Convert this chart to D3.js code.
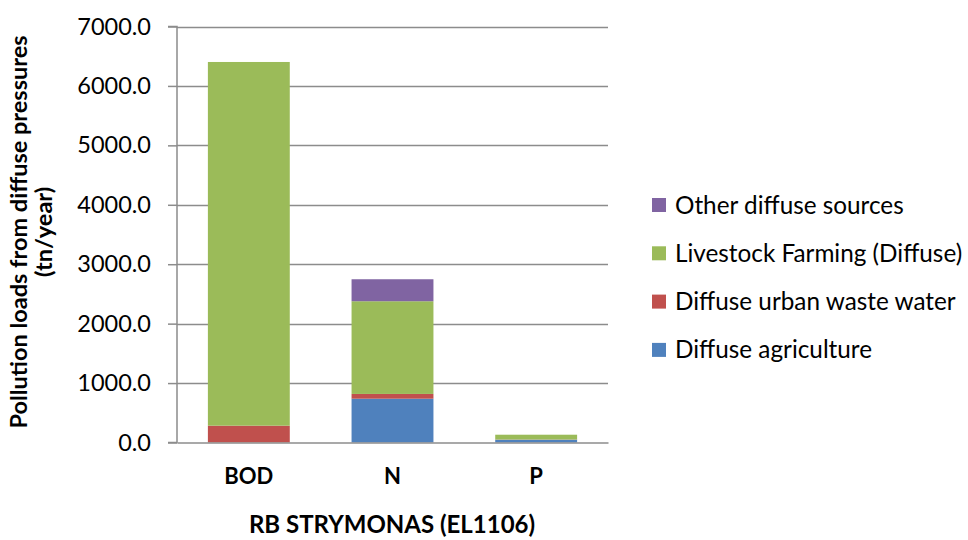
<!DOCTYPE html>
<html><head><meta charset="utf-8">
<script src="https://cdn.jsdelivr.net/npm/d3@7"></script>
<style>body{margin:0;background:#fff}text{font-family:Lato,"Open Sans",sans-serif}</style>
</head><body><svg id="c" width="968" height="540"></svg>
<script>
const categories = ["BOD", "N", "P"];
const seriesNames = ["Diffuse agriculture", "Diffuse urban waste water", "Livestock Farming (Diffuse)", "Other diffuse sources"];
const diffuseAgriculture = [0, 737, 47];
const diffuseUrbanWasteWater = [283, 80, 3];
const livestockFarming = [6120, 1560, 81];
const otherDiffuse = [0, 370, 0];
const yTicks = [0, 1000, 2000, 3000, 4000, 5000, 6000, 7000];
const colors = ["#4F81BD", "#C0504D", "#9BBB59", "#8064A2"];
const xTitle = "RB STRYMONAS (EL1106)";
const yTitle1 = "Pollution loads from diffuse pressures";
const yTitle2 = "(tn/year)";

const svg = d3.select("#c");
const L = 177, R = 608, T = 26.5, B = 442.5;
const x = d3.scaleBand().domain(categories).range([L, R]).paddingInner(0.43).paddingOuter(0.215);
const y = d3.scaleLinear().domain([0, 7000]).range([B, T]);

// gridlines
svg.append("g").selectAll("line").data(yTicks.slice(1)).join("line")
  .attr("x1", L).attr("x2", R).attr("y1", d => Math.round(y(d)) + 0.5).attr("y2", d => Math.round(y(d)) + 0.5)
  .attr("stroke", "#8c8c8c").attr("stroke-width", 1.5);

const rows = categories.map((c, i) => ({cat: c, a: diffuseAgriculture[i], u: diffuseUrbanWasteWater[i], l: livestockFarming[i], o: otherDiffuse[i]}));
const stack = d3.stack().keys(["a", "u", "l", "o"])(rows);
svg.append("g").selectAll("g").data(stack).join("g").attr("fill", (d, i) => colors[i])
  .selectAll("rect").data(d => d).join("rect")
  .attr("x", d => x(d.data.cat)).attr("width", x.bandwidth())
  .attr("y", d => y(d[1])).attr("height", d => Math.max(0, y(d[0]) - y(d[1])));

// y axis
const yAxis = d3.axisLeft(y).tickValues(yTicks).tickFormat(d3.format(".1f")).tickSize(9).tickPadding(17);
const gy = svg.append("g").attr("transform", `translate(${L},0)`).call(yAxis);
gy.select(".domain").attr("stroke", "#8c8c8c").attr("stroke-width", 1.5).attr("d", `M-9,${B}H0V${T}H-9`);
gy.selectAll(".tick line").attr("stroke", "#8c8c8c").attr("stroke-width", 1.5);
gy.selectAll(".tick text").attr("font-size", 23.5).attr("fill", "#000").style("font-family", "Lato");

// x axis baseline
const xAxis = d3.axisBottom(x).tickSize(0).tickPadding(26);
const gx = svg.append("g").attr("transform", `translate(0,${B})`).call(xAxis);
gx.select(".domain").attr("stroke", "#8c8c8c").attr("stroke-width", 1.5);
gx.selectAll(".tick text").attr("font-size", 22).attr("font-weight", "bold").attr("fill", "#000").style("font-family", "Lato");

// titles
svg.append("text").attr("x", 392).attr("y", 533).attr("text-anchor", "middle").attr("font-size", 24).attr("font-weight", "bold").text(xTitle);
svg.append("text").attr("transform", "translate(27,232) rotate(-90)").attr("text-anchor", "middle").attr("font-size", 23.5).attr("font-weight", "bold").text(yTitle1);
svg.append("text").attr("transform", "translate(52,232) rotate(-90)").attr("text-anchor", "middle").attr("font-size", 23.5).attr("font-weight", "bold").text(yTitle2);

// legend
const legendOrder = [3, 2, 1, 0];
const lg = svg.append("g").selectAll("g").data(legendOrder).join("g")
  .attr("transform", (d, i) => `translate(652,${205 + i * 48.3})`);
lg.append("rect").attr("x", 0).attr("y", -7).attr("width", 14).attr("height", 14).attr("fill", d => colors[d]);
lg.append("text").attr("x", 23).attr("y", 8.5).attr("font-size", 24.3).attr("fill", "#000").text(d => seriesNames[d]);
</script></body></html>
